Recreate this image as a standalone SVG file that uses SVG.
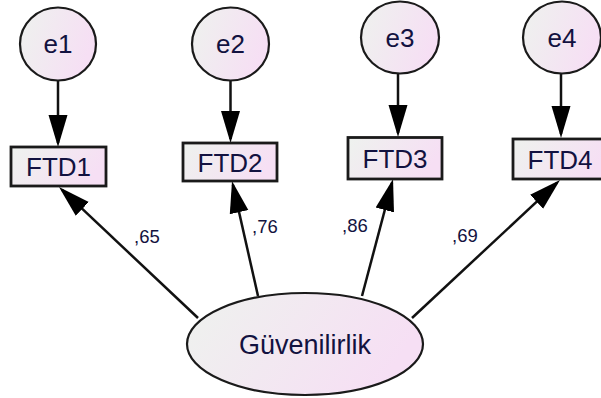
<svg xmlns="http://www.w3.org/2000/svg" width="601" height="398" viewBox="0 0 601 398">
<style>
.node{stroke:#1a1a1a;stroke-width:2.2}
.box{stroke:#1a1a1a;stroke-width:2.8}
.t{font-family:"Liberation Sans",Arial,sans-serif;fill:#121240;text-anchor:middle}
.n{font-size:26px}
.lbl{font-family:"Liberation Sans",Arial,sans-serif;fill:#121240;font-size:18.5px}
.c{stroke:#111;stroke-width:2.5;fill:none;marker-end:url(#ah)}
</style>
<defs>
<linearGradient id="g" x1="0" y1="0" x2="1" y2="0.3">
<stop offset="0" stop-color="#eef2ee"/>
<stop offset="1" stop-color="#f6dff4"/>
</linearGradient>
<marker id="ah" markerUnits="userSpaceOnUse" markerWidth="34" markerHeight="22" viewBox="0 0 34 22" refX="28" refY="11" orient="auto">
<path d="M0,1.5 L32,11 L0,20.5 Z" fill="#000"/>
</marker>
</defs>
<rect width="601" height="398" fill="#ffffff"/>
<g id="connectors">
<line class="c" x1="58" y1="81" x2="58" y2="143"/>
<line class="c" x1="230.5" y1="81" x2="230.5" y2="139"/>
<line class="c" x1="398" y1="74" x2="398" y2="133"/>
<line class="c" x1="561" y1="74" x2="561" y2="134"/>
<line class="c" x1="198" y1="318" x2="61.9" y2="189.7"/>
<line class="c" x1="258" y1="296" x2="232.9" y2="184.9"/>
<line class="c" x1="362" y1="296" x2="392" y2="182.9"/>
<line class="c" x1="412" y1="318" x2="557.1" y2="182.7"/>
</g>
<g id="e1"><ellipse class="node" cx="58" cy="44" rx="38" ry="36.5" fill="url(#g)"/><text class="t n" x="58" y="53">e1</text></g>
<g id="e2"><ellipse class="node" cx="230.5" cy="44" rx="38.5" ry="36.5" fill="url(#g)"/><text class="t n" x="230.5" y="53">e2</text></g>
<g id="e3"><ellipse class="node" cx="400" cy="37.5" rx="39" ry="36" fill="url(#g)"/><text class="t n" x="400" y="46.5">e3</text></g>
<g id="e4"><ellipse class="node" cx="562" cy="37.5" rx="39" ry="36" fill="url(#g)"/><text class="t n" x="562" y="46.5">e4</text></g>
<g id="FTD1"><rect class="box" x="11" y="147" width="95" height="39" fill="url(#g)"/><text class="t n" x="58.5" y="176">FTD1</text></g>
<g id="FTD2"><rect class="box" x="183" y="143" width="94" height="38" fill="url(#g)"/><text class="t n" x="230" y="171.5">FTD2</text></g>
<g id="FTD3"><rect class="box" x="348" y="137.5" width="94" height="41.5" fill="url(#g)"/><text class="t n" x="395" y="167.5">FTD3</text></g>
<g id="FTD4"><rect class="box" x="513" y="139" width="95" height="40" fill="url(#g)"/><text class="t n" x="560" y="168.5">FTD4</text></g>
<g id="Guvenilirlik"><ellipse class="node" cx="305" cy="344" rx="118" ry="51" fill="url(#g)"/><text class="t" style="font-size:27px" x="305" y="354">Güvenilirlik</text></g>
<g id="labels">
<text class="lbl" x="134" y="243">,65</text>
<text class="lbl" x="252" y="233">,76</text>
<text class="lbl" x="342" y="232">,86</text>
<text class="lbl" x="452" y="242">,69</text>
</g>
</svg>
